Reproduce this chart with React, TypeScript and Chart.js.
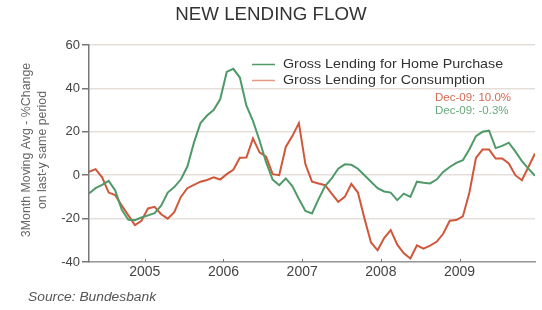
import React, { useEffect, useRef } from "react";
import { Chart, registerables } from "chart.js";

Chart.register(...registerables);

// Monthly observations, Apr-2004 .. Dec-2009
const startYear = 2004;
const startMonth = 3; // April (0-based)
const monthNames = ["Jan","Feb","Mar","Apr","May","Jun","Jul","Aug","Sep","Oct","Nov","Dec"];

const homePurchase = [
  -8.4, -6, -4.5, -2.6, -7, -16, -20.5, -20.7, -19.5, -18.5,
  -17.5, -14, -8, -5.5, -2, 4, 15, 24, 27.5, 30,
  35, 47.6, 49, 45, 32, 25, 16, 6, -2, -4.6,
  -1.5, -5, -11, -16.5, -17.6, -11, -5, -1.5, 3, 5,
  4.8, 3, 0, -3, -6, -7.5, -8, -11.5, -8.5, -10,
  -3, -3.5, -3.8, -2, 1.5, 3.8, 5.7, 6.9, 12, 18,
  20, 20.5, 12.5, 13.5, 15, 11, 6.5, 3, -0.3,
];

const consumption = [
  1.5, 2.8, -1, -8, -9.2, -14, -18.5, -23, -21, -15.3,
  -14.6, -18, -20, -17, -10, -6, -4.5, -3, -2.2, -1,
  -2, 0.5, 2.5, 8, 8.1, 17, 10.5, 8.5, 0.5, 0,
  13, 18, 24, 5, -3, -3.8, -4.6, -8.5, -12.3, -10,
  -4, -8, -20, -31, -34.6, -29, -25.3, -32, -36, -38.4,
  -32.3, -33.8, -32.5, -30.7, -27, -21, -20.7, -19, -8, 8,
  11.8, 11.8, 7.7, 7.7, 5.4, 0, -2.3, 3.8, 10,
];

const months: string[] = homePurchase.map((_, i) => {
  const m = (startMonth + i) % 12;
  const y = startYear + Math.floor((startMonth + i) / 12);
  return monthNames[m] + "-" + String(y).slice(2);
});

const yearLabels = ["2005", "2006", "2007", "2008", "2009"];
const yearTickPos = yearLabels.map((y) => months.indexOf("Jan-" + y.slice(2)) - 0.5);

const yTicks = [-40, -20, 0, 20, 40, 60];

const seriesNames = ["Gross Lending for Home Purchase", "Gross Lending for Consumption"];
const annotations = ["Dec-09: 10.0%", "Dec-09: -0.3%"];

const GREEN = "#4f9a68";
const RED = "#cf573a";
const FONT = "'Liberation Sans', Arial, sans-serif";

function drawText(
  ctx: CanvasRenderingContext2D,
  text: string,
  x: number,
  y: number,
  font: string,
  color: string,
  align: CanvasTextAlign,
  sx = 1
) {
  ctx.save();
  ctx.font = font;
  ctx.fillStyle = color;
  ctx.textAlign = align;
  ctx.textBaseline = "middle";
  ctx.translate(x, y);
  ctx.scale(sx, 1);
  ctx.fillText(text, 0, 0);
  ctx.restore();
}

const decorPlugin = {
  id: "decor",
  afterDraw(chart: any) {
    const ctx: CanvasRenderingContext2D = chart.ctx;
    const xs = chart.scales.x;
    const area = chart.chartArea;

    // inward year ticks on the x axis
    ctx.save();
    ctx.strokeStyle = "#777";
    ctx.lineWidth = 1;
    yearTickPos.forEach((p) => {
      const x = Math.round(xs.getPixelForValue(p)) + 0.5;
      ctx.beginPath();
      ctx.moveTo(x, area.bottom);
      ctx.lineTo(x, area.bottom - 3);
      ctx.stroke();
    });
    ctx.restore();

    // title
    drawText(ctx, "NEW LENDING FLOW", 271, 15, `18px ${FONT}`, "#333", "center", 1.04);

    // y axis title (two lines, rotated)
    ctx.save();
    ctx.translate(27, 150);
    ctx.rotate(-Math.PI / 2);
    drawText(ctx, "3Month Moving Avg - %Change", 0, 0, `12px ${FONT}`, "#666", "center", 1.03);
    ctx.restore();
    ctx.save();
    ctx.translate(43, 150);
    ctx.rotate(-Math.PI / 2);
    drawText(ctx, "on last-y same period", 0, 0, `12px ${FONT}`, "#666", "center", 1.03);
    ctx.restore();

    // legend
    const legendColors = [GREEN, "#e39a80"];
    seriesNames.forEach((name, i) => {
      const y = 64 + i * 16;
      ctx.save();
      ctx.strokeStyle = legendColors[i];
      ctx.lineWidth = 1.5;
      ctx.beginPath();
      ctx.moveTo(252, y + 0.5);
      ctx.lineTo(275, y + 0.5);
      ctx.stroke();
      ctx.restore();
      drawText(ctx, name, 283, y, `13px ${FONT}`, "#333", "left", 1.1);
    });

    // latest-value annotations
    drawText(ctx, annotations[0], 435, 98, `11.5px ${FONT}`, "#d46a50", "left");
    drawText(ctx, annotations[1], 435, 111, `11.5px ${FONT}`, "#67a97b", "left");

    // source
    drawText(ctx, "Source: Bundesbank", 28, 298, `italic 12px ${FONT}`, "#555", "left", 1.15);
  },
};

export default function App() {
  const ref = useRef<HTMLCanvasElement | null>(null);

  useEffect(() => {
    if (!ref.current) return;
    const chart = new Chart(ref.current, {
      type: "line",
      data: {
        datasets: [
          {
            label: seriesNames[0],
            data: homePurchase.map((v, i) => ({ x: i, y: v })),
            borderColor: GREEN,
            borderWidth: 2,
            pointRadius: 0,
            tension: 0,
          },
          {
            label: seriesNames[1],
            data: consumption.map((v, i) => ({ x: i, y: v })),
            borderColor: RED,
            borderWidth: 2,
            pointRadius: 0,
            tension: 0,
          },
        ],
      },
      options: {
        animation: false,
        responsive: false,
        layout: { padding: { top: 45, right: 7, bottom: 0, left: 0 } },
        plugins: {
          legend: { display: false },
          title: { display: false },
          tooltip: { enabled: false },
        },
        scales: {
          x: {
            type: "linear",
            min: 0,
            max: months.length - 1,
            afterBuildTicks: (s: any) => {
              s.ticks = yearTickPos.map((v) => ({ value: v }));
            },
            afterFit: (s: any) => {
              s.height = 48;
            },
            ticks: {
              autoSkip: false,
              maxRotation: 0,
              padding: 2,
              color: "#444",
              font: { family: FONT, size: 14 },
              callback: (v: any) => {
                const k = yearTickPos.indexOf(Number(v));
                return k >= 0 ? yearLabels[k] : "";
              },
            },
            grid: { display: true, drawOnChartArea: false, drawTicks: false, tickLength: 0 },
            border: { display: true, color: "#999", width: 1.5 },
          },
          y: {
            min: yTicks[0],
            max: yTicks[yTicks.length - 1],
            afterBuildTicks: (s: any) => {
              s.ticks = yTicks.map((v) => ({ value: v }));
            },
            afterFit: (s: any) => {
              s.width = 89;
            },
            ticks: {
              padding: 2,
              color: "#444",
              font: { family: FONT, size: 13 },
            },
            grid: {
              color: "#e5dfdb",
              lineWidth: 1.5,
              tickColor: "#777",
              tickLength: 7,
            },
            border: { display: true, color: "#777", width: 1.5 },
          },
        },
      },
      plugins: [decorPlugin],
    });
    return () => chart.destroy();
  }, []);

  return (
    <div style={{ position: "absolute", left: 0, top: 0, width: 542, height: 310, background: "#fff" }}>
      <canvas ref={ref} width={542} height={310} />
    </div>
  );
}
